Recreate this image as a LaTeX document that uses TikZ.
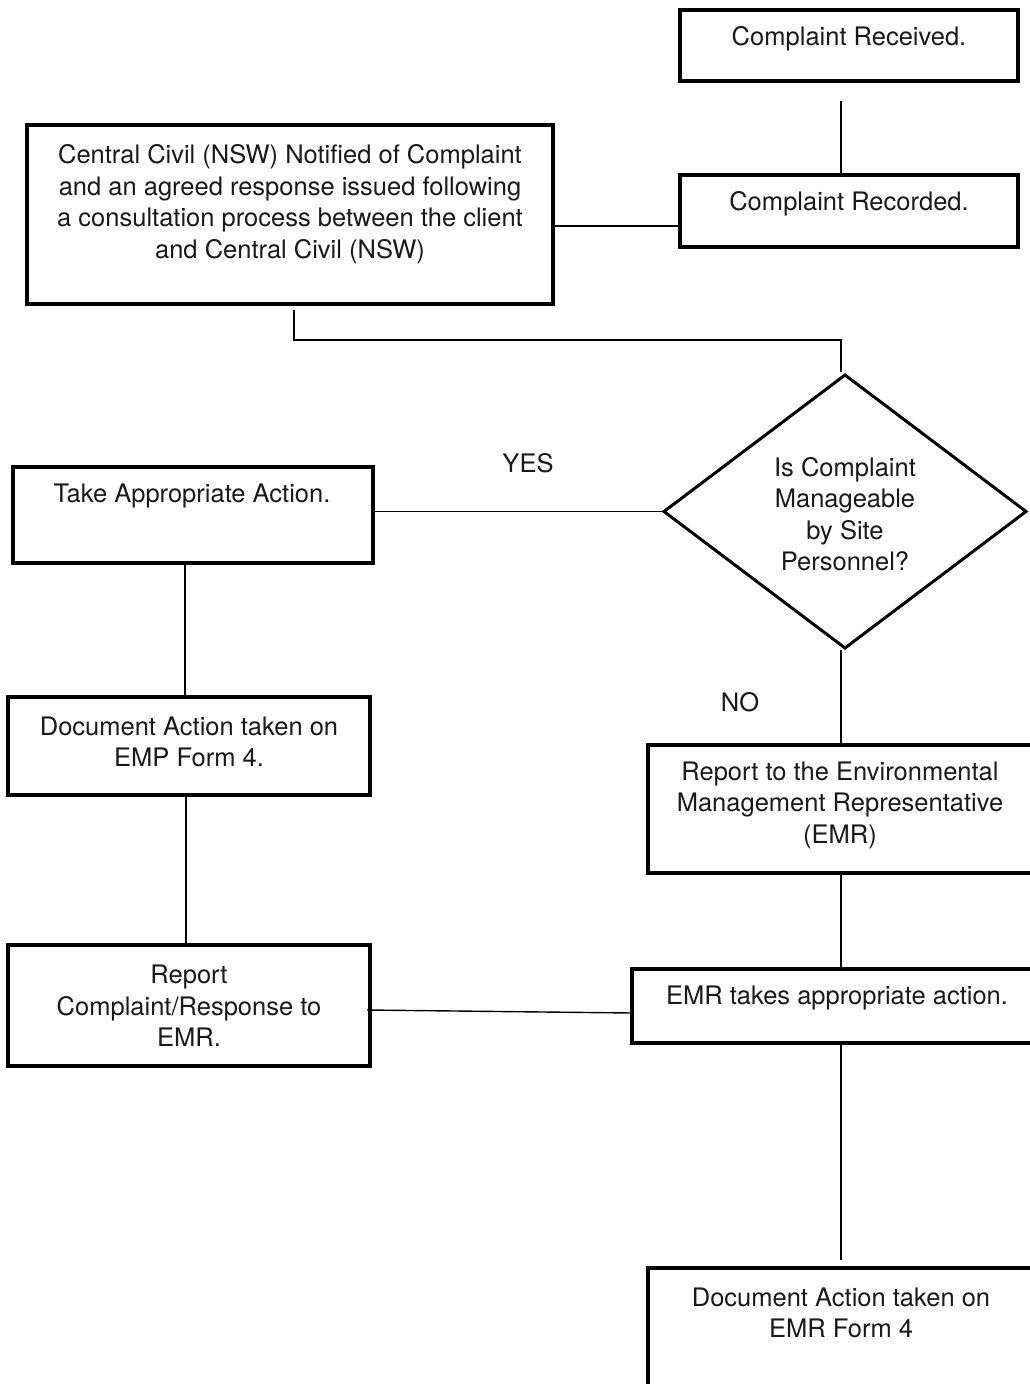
\documentclass[tikz,border=0pt]{standalone}
\usepackage{fontspec}
\setmainfont{TeX Gyre Heros}
\usetikzlibrary{shapes.geometric}
\begin{document}
\begin{tikzpicture}[x=1pt,y=-1pt,
  box/.style={draw=black, line width=3.2pt, inner sep=0pt, outer sep=0pt, rectangle},
  dia/.style={draw=black, line width=3pt, inner sep=0pt, outer sep=0pt, diamond},
  txt/.style={align=center, inner sep=0pt, font=\fontsize{25.5}{31.5}\selectfont, text=black!90},
  conn/.style={line width=1.4pt, draw=black}
]
\useasboundingbox (0,0) rectangle (1030,1384);
\clip (0,0) rectangle (1030,1384);
\fill[white] (0,0) rectangle (1030,1384);

% boxes
\node[box, minimum width=338, minimum height=71] (rec) at (849,45.5) {};
\node[box, minimum width=338, minimum height=72] (rcd) at (849,211) {};
\node[box, minimum width=526, minimum height=179] (cc) at (290,214.5) {};
\node[dia, minimum width=362, minimum height=273] (dm) at (845,511.5) {};
\node[box, minimum width=360, minimum height=96] (taa) at (193,515) {};
\node[box, minimum width=362, minimum height=98] (doc1) at (189,746) {};
\node[box, minimum width=362, minimum height=121] (rep) at (189,1005.5) {};
\node[box, minimum width=397, minimum height=128] (emr) at (846.5,809) {};
\node[box, minimum width=413, minimum height=74] (eta) at (838.5,1006) {};
\node[box, minimum width=397, minimum height=132] (doc2) at (846.5,1334) {};

% texts
\node[txt] (trec) at (849,39) {Complaint Received.};
\node[txt] (trcd) at (849,204) {Complaint Recorded.};
\node[txt] (tcc) at (290,204) {Central Civil (NSW) Notified of Complaint\\and an agreed response issued following\\a consultation process between the client\\and Central Civil (NSW)};
\node[txt] (tdm) at (845,514) {Is Complaint\\Manageable\\by Site\\Personnel?};
\node[txt] (ttaa) at (192,496) {Take Appropriate Action.};
\node[txt] (tdoc1) at (189,742) {Document Action taken on\\EMP Form 4.};
\node[txt] (trep) at (189,1006) {Report\\Complaint/Response to\\EMR.};
\node[txt] (temr) at (840,805) {Report to the Environmental\\Management Representative\\(EMR)};
\node[txt] (teta) at (837,998) {EMR takes appropriate action.};
\node[txt] (tdoc2) at (841,1313) {Document Action taken on\\EMR Form 4};
\node[txt] (yes) at (528,463) {YES};
\node[txt] (no) at (740,702) {NO};

% connectors
\draw[conn, shorten <=20pt] ([xshift=-8pt]rec.south) -- ([xshift=-8pt]rcd.north);
\draw[conn] ([yshift=-11.5pt]cc.east) -- ([yshift=-15pt]rcd.west);
\draw[conn] ([xshift=4pt,yshift=-6pt]cc.south) |- ([xshift=-4pt,yshift=35pt]dm.north) -- ([xshift=-4pt,yshift=3pt]dm.north);
\draw[conn] (dm.west) -- (taa.east |- dm.west);
\draw[conn] ([xshift=-8pt]taa.south) -- ([xshift=-4pt]doc1.north);
\draw[conn] ([xshift=-3pt]doc1.south) -- ([xshift=-3pt,yshift=2pt]rep.north);
\draw[conn] ([xshift=-4pt,yshift=-2pt]dm.south) -- ([xshift=-5.5pt]emr.north);
\draw[conn, shorten <=2pt] ([xshift=-5.5pt]emr.south) -- ([xshift=2.5pt,yshift=1pt]eta.north);
\draw[conn] ([xshift=-3pt,yshift=-4.5pt]rep.east) -- ([yshift=-7pt]eta.west);
\draw[conn] ([xshift=2.5pt,yshift=-2pt]eta.south) -- ([xshift=-5.5pt,yshift=8pt]doc2.north);
\end{tikzpicture}
\end{document}
